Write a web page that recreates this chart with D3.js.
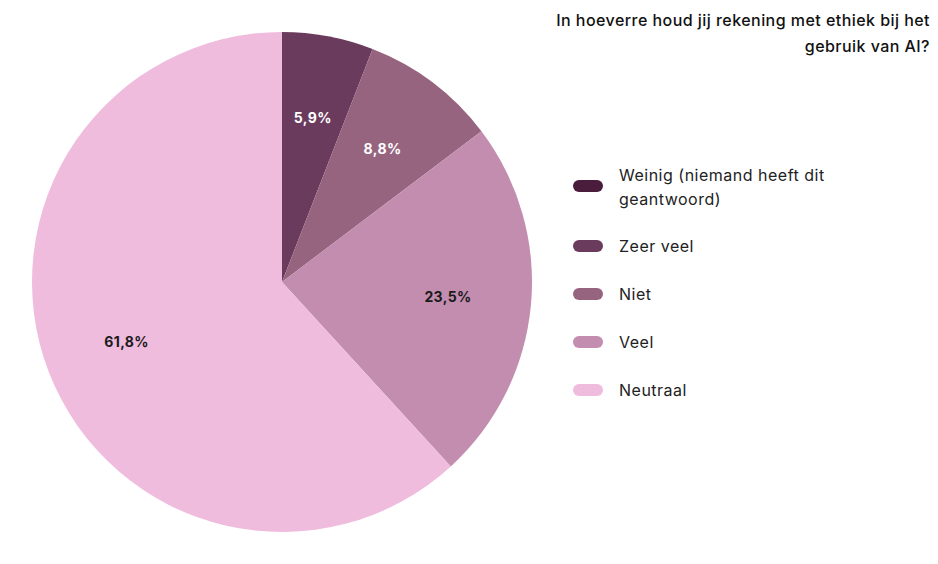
<!DOCTYPE html>
<html lang="nl">
<head>
<meta charset="utf-8">
<title>Ethiek bij AI</title>
<script src="https://cdnjs.cloudflare.com/ajax/libs/d3/7.8.5/d3.min.js"></script>
<style>
  body { margin: 0; background: #fff; }
  text { font-family: Inter, "Noto Sans", sans-serif; }
</style>
</head>
<body>
<script>
var w = 938, h = 564;

var categories = ["Weinig (niemand heeft dit geantwoord)", "Zeer veel", "Niet", "Veel", "Neutraal"];
var values = [0, 5.9, 8.8, 23.5, 61.8];
var colors = ["#4b1d3d", "#6a3b5d", "#97647f", "#c28daf", "#f0bcdd"];
var labelColors = ["#fff", "#fff", "#fff", "#1a1a1a", "#1a1a1a"];
var titleLines = ["In hoeverre houd jij rekening met ethiek bij het", "gebruik van AI?"];

var data = categories.map(function(c, i) {
  return { name: c, value: values[i], color: colors[i], lc: labelColors[i] };
});

var svg = d3.select("body").append("svg")
  .attr("width", w)
  .attr("height", h);

var r = 250;
var g = svg.append("g").attr("transform", "translate(282,282)");

var pie = d3.pie().sort(null).value(function(d) { return d.value; });
var arc = d3.arc().innerRadius(0).outerRadius(r);
var labelArc = d3.arc().innerRadius(r * 0.667).outerRadius(r * 0.667);

var arcs = pie(data).filter(function(d) { return d.data.value > 0; });

g.selectAll("path")
  .data(arcs)
  .enter()
  .append("path")
  .attr("d", arc)
  .attr("fill", function(d) { return d.data.color; });

g.selectAll("text.lbl")
  .data(arcs)
  .enter()
  .append("text")
  .attr("class", "lbl")
  .attr("transform", function(d) { return "translate(" + labelArc.centroid(d) + ")"; })
  .attr("text-anchor", "middle")
  .attr("dy", "0.35em")
  .attr("font-size", "14px")
  .attr("font-weight", "bold")
  .attr("letter-spacing", "0.4px")
  .attr("fill", function(d) { return d.data.lc; })
  .text(function(d) { return d.data.value.toFixed(1).replace(".", ",") + "%"; });

// title, right aligned
svg.selectAll("text.title")
  .data(titleLines)
  .enter()
  .append("text")
  .attr("class", "title")
  .attr("x", 930)
  .attr("y", function(d, i) { return 26 + i * 26; })
  .attr("text-anchor", "end")
  .attr("font-size", "16px")
  .attr("font-weight", 500)
  .attr("letter-spacing", "0.45px")
  .attr("fill", "#111")
  .text(function(d) { return d; });

// legend
var legendY = [186, 246, 294, 342, 390];
var leg = svg.selectAll("g.leg")
  .data(data)
  .enter()
  .append("g")
  .attr("class", "leg")
  .attr("transform", function(d, i) { return "translate(573," + legendY[i] + ")"; });

leg.append("rect")
  .attr("x", 0)
  .attr("y", -6)
  .attr("width", 30)
  .attr("height", 12)
  .attr("rx", 6)
  .attr("fill", function(d) { return d.color; });

leg.each(function(d, i) {
  var lines = i === 0 ? ["Weinig (niemand heeft dit", "geantwoord)"] : [d.name];
  var t = d3.select(this).append("text")
    .attr("x", 46)
    .attr("font-size", "16px")
    .attr("letter-spacing", "0.5px")
    .attr("fill", "#222");
  t.selectAll("tspan")
    .data(lines)
    .enter()
    .append("tspan")
    .attr("x", 46)
    .attr("y", function(l, j) { return (lines.length > 1 ? -11 : 0) + j * 24; })
    .attr("dy", "0.35em")
    .text(function(l) { return l; });
});
</script>
</body>
</html>
